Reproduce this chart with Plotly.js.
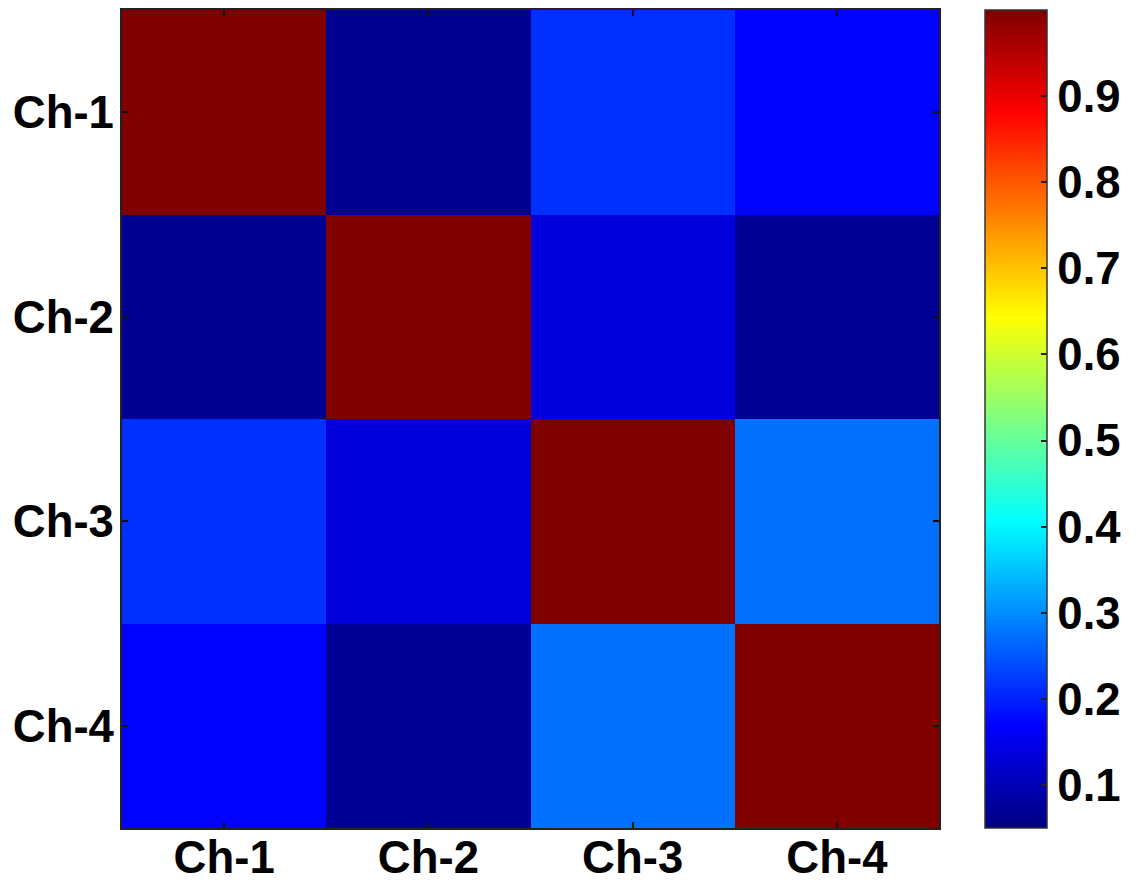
<!DOCTYPE html>
<html>
<head>
<meta charset="utf-8">
<script src="https://cdn.plot.ly/plotly-3.0.1.min.js"></script>
<style>html,body{margin:0;padding:0;background:#fff;}</style>
</head>
<body>
<div id="chart" style="width:1137px;height:884px;"></div>
<script>
var channels = ['Ch-1', 'Ch-2', 'Ch-3', 'Ch-4'];
var row1 = [1.00, 0.065, 0.213, 0.170];
var row2 = [0.065, 1.00, 0.136, 0.070];
var row3 = [0.213, 0.136, 1.00, 0.273];
var row4 = [0.170, 0.070, 0.273, 1.00];
var colorTicks = [0.1, 0.2, 0.3, 0.4, 0.5, 0.6, 0.7, 0.8, 0.9];
var zMin = 0.05, zMax = 1.0;

var jet = [
  [0, 'rgb(0,0,128)'],
  [0.125, 'rgb(0,0,255)'],
  [0.375, 'rgb(0,255,255)'],
  [0.625, 'rgb(255,255,0)'],
  [0.875, 'rgb(255,0,0)'],
  [1, 'rgb(128,0,0)']
];

var font = {family: 'Liberation Sans, Arial, sans-serif', size: 45.5, color: '#000', weight: 'bold'};

var trace = {
  type: 'heatmap',
  x: channels,
  y: channels,
  z: [row1, row2, row3, row4],
  zmin: zMin,
  zmax: zMax,
  colorscale: jet,
  xgap: 0, ygap: 0,
  colorbar: {
    x: 1.055, xanchor: 'left',
    y: 0.5, yanchor: 'middle',
    len: 1.0, lenmode: 'fraction',
    thickness: 62,
    ypad: 0, xpad: 0,
    outlinewidth: 1.5, outlinecolor: '#333',
    ticks: 'inside', ticklen: 6, tickwidth: 2, tickcolor: '#222',
    tickvals: colorTicks,
    ticktext: colorTicks.map(function(v){return v.toFixed(1);}),
    tickfont: font,
    ticklabelstandoff: 4
  }
};

var layout = {
  width: 1137, height: 884,
  margin: {l: 122, r: 197, t: 10, b: 56},
  paper_bgcolor: '#fff',
  plot_bgcolor: '#fff',
  font: font,
  xaxis: {
    type: 'category',
    showline: true, linecolor: '#222', linewidth: 2, mirror: 'ticks',
    ticks: 'inside', ticklen: 6, tickwidth: 2, tickcolor: '#111',
    tickfont: font, showgrid: false, zeroline: false,
    ticklabelstandoff: -12
  },
  yaxis: {
    type: 'category', autorange: 'reversed',
    showline: true, linecolor: '#222', linewidth: 2, mirror: 'ticks',
    ticks: 'inside', ticklen: 6, tickwidth: 2, tickcolor: '#111',
    tickfont: font, showgrid: false, zeroline: false,
    ticklabelstandoff: -3
  },
  showlegend: false
};

Plotly.newPlot('chart', [trace], layout, {displayModeBar: false, staticPlot: true});
</script>
</body>
</html>
